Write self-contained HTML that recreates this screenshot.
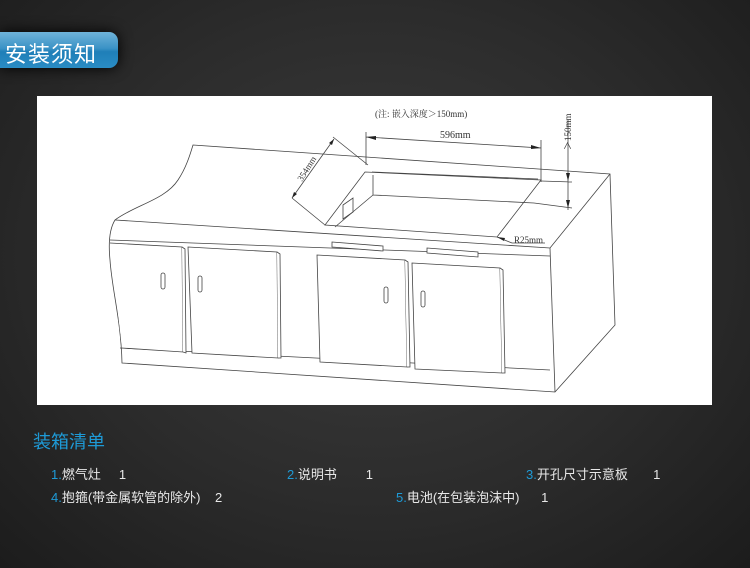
<!DOCTYPE html>
<html><head><meta charset="utf-8"><style>
body{margin:0;width:750px;height:568px;overflow:hidden;background:radial-gradient(ellipse at 50% 45%,#3c3c3c 0%,#2c2c2c 55%,#1c1c1c 100%);font-family:"Liberation Sans","Noto Sans CJK SC",sans-serif;position:relative}
.tab{position:absolute;left:0;top:32px;width:118px;height:36px;border-radius:0 9px 9px 0;background:linear-gradient(#6fb3d9 0%,#3b93c6 45%,#1f7fb8 55%,#2a8cc4 100%);box-shadow:0 0 14px #000}
.tab span{position:absolute;left:5px;top:5px;color:#fff;font-size:22px;letter-spacing:1px}
.draw{position:absolute;left:37px;top:96px;width:675px;height:309px;background:#fff}
h2{position:absolute;left:33px;top:428px;margin:0;font-weight:normal;color:#1e9ad6;font-size:18px}
.it{position:absolute;color:#e8e8e8;font-size:13px;white-space:pre}
.it b{font-weight:normal;color:#1e9ad6}
</style></head><body>
<div class="tab"><span>安装须知</span></div>
<div class="draw">
<svg width="675" height="309" viewBox="37 96 675 309" fill="none" stroke="#444" stroke-width="0.8" font-family="Liberation Serif,serif">
<path d="M193 145 L610 174 L615 325 L555 392 L122 363 C121 320 112 290 110 260 C108 240 110 228 115 220 C135 205 165 200 178 180 C186 168 190 155 193 145Z"/>
<path d="M115 220 L550 248 L610 174 M550 248 L555 392"/>
<path d="M110 240 L550 256"/>
<path d="M120 348 L550 370"/>
<g fill="#fff">
<path d="M110 243 L182 247 L183 352 L122 348"/><path d="M182 247 L185 249 L186 353 L183 352"/>
<path d="M188 247 L277 252 L278 358 L192 353Z"/><path d="M277 252 L280 254 L281 358 L278 358"/>
<path d="M317 255 L405 260 L407 367 L320 362Z"/><path d="M405 260 L408 262 L410 367 L407 367"/>
<path d="M412 263 L500 268 L502 373 L415 369Z"/><path d="M500 268 L503 270 L505 373 L502 373"/>
<path d="M332 242 L383 246 L383 251 L332 247Z"/><path d="M427 248 L478 252 L478 257 L427 253Z"/>
</g>
<rect x="161" y="273" width="4" height="16" rx="2"/><rect x="198" y="276" width="4" height="16" rx="2"/>
<rect x="384" y="287" width="4" height="16" rx="2"/><rect x="421" y="291" width="4" height="16" rx="2"/>
<path d="M365 172 L541 180 L497 237 L325 225Z"/>
<path d="M372 172 L538 179 M373 175 L373 195 L534 203 M373 195 L335 227"/>
<path d="M343 205 L353 198 L353 212 L343 219Z"/>
<path d="M366 132 V165 M541 140 V182 M366 137 L541 148"/>
<path d="M541 181 L572 182 M534 203 L572 208 M568 120 V210"/>
<path d="M334 139 L292 198 M333 137 L368 165 M292 198 L325 225"/>
<path d="M497 237 L512 243 L545 243"/>
<g fill="#222" stroke="none">
<path d="M366 137 L376 136 L376 140Z"/><path d="M541 148 L531 149 L531 145Z"/>
<path d="M568 181 L566 173 L570 173Z"/><path d="M568 208 L566 200 L570 200Z"/>
<path d="M334 139 L332 145 L329 143Z"/><path d="M292 198 L294 192 L297 194Z"/>
<path d="M497 237 L505 238 L504 241Z"/>
</g>
<g fill="#333" stroke="none" font-size="9">
<text x="375" y="117" font-family="Liberation Serif,Noto Serif CJK SC,serif">(注: 嵌入深度＞150mm)</text>
<text x="440" y="138" font-size="10">596mm</text>
<text x="514" y="243">R25mm</text>
<text transform="translate(302,182) rotate(-58)">354mm</text>
<text transform="translate(571,150) rotate(-90)">＞150mm</text>
</g>
</svg>
</div>
<h2>装箱清单</h2>
<div class="it" style="left:51px;top:464px"><b>1.</b>燃气灶     1</div>
<div class="it" style="left:287px;top:464px"><b>2.</b>说明书        1</div>
<div class="it" style="left:526px;top:464px"><b>3.</b>开孔尺寸示意板       1</div>
<div class="it" style="left:51px;top:487px"><b>4.</b>抱箍(带金属软管的除外)    2</div>
<div class="it" style="left:396px;top:487px"><b>5.</b>电池(在包装泡沫中)      1</div>
</body></html>
